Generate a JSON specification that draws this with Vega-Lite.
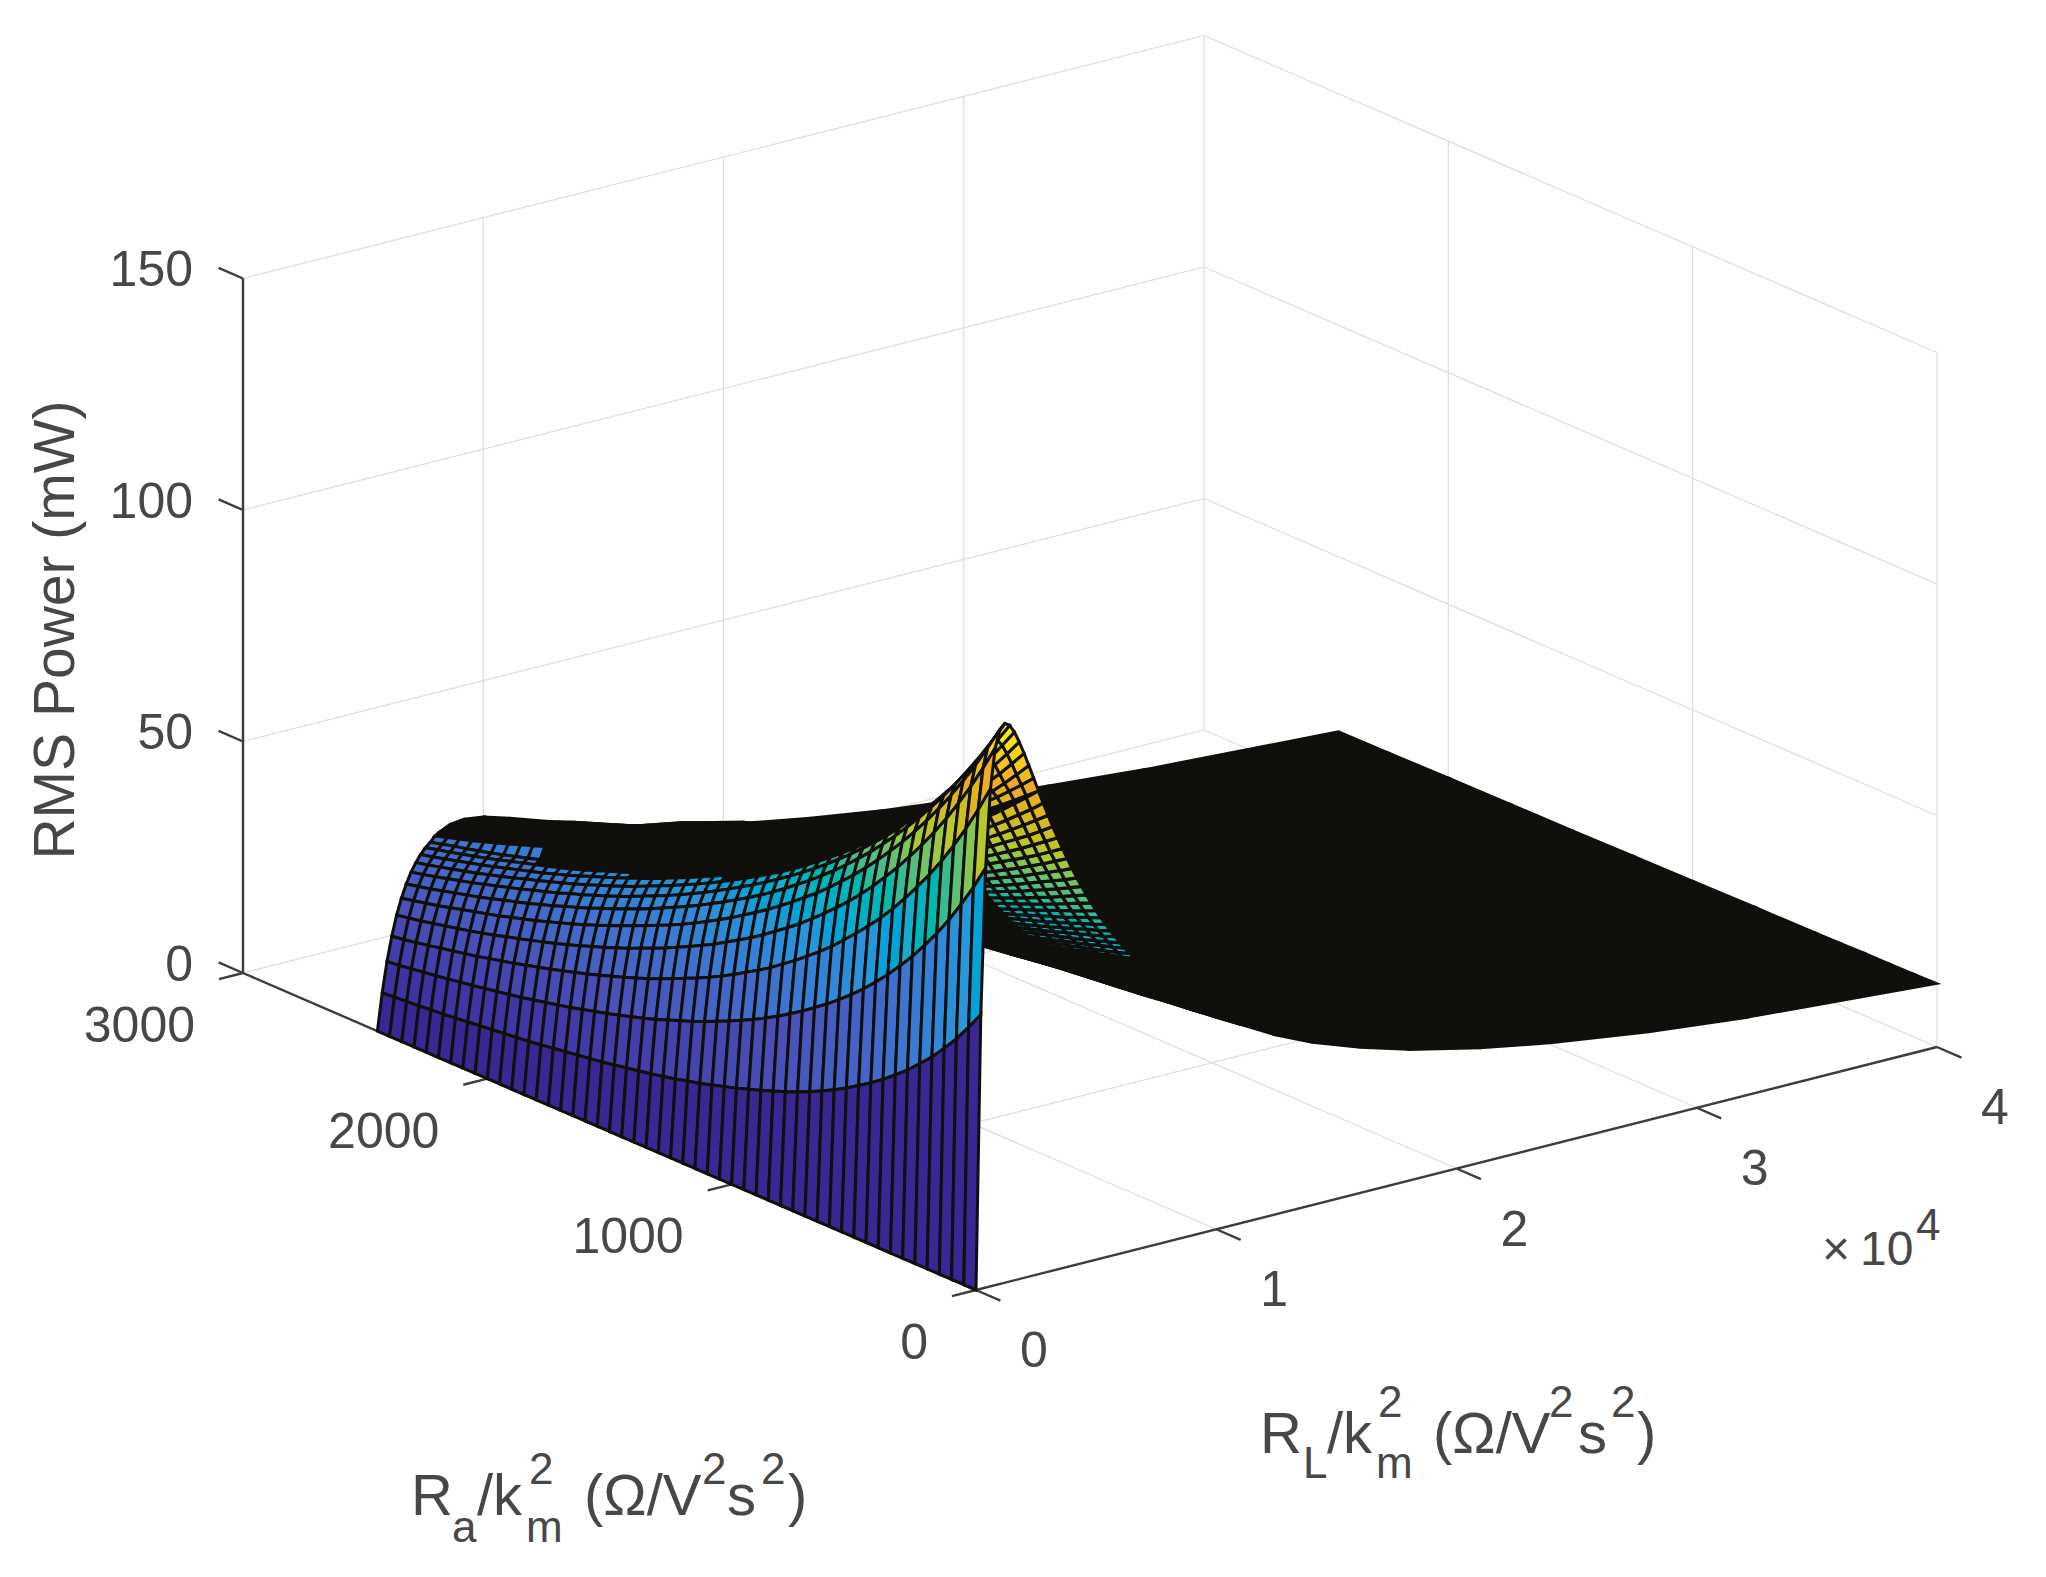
{"$schema":"https://vega.github.io/schema/vega-lite/v6.json","width":2046,"height":1577,"autosize":{"type":"fit","contains":"padding"},"padding":0,"background":"white","view":{"stroke":null},
"datasets":{
"lines":[
{"id":"f1","kind":"grid","rl":10000,"ra":0,"p":0},{"id":"f1","kind":"grid","rl":10000,"ra":3000,"p":0},
{"id":"f2","kind":"grid","rl":20000,"ra":0,"p":0},{"id":"f2","kind":"grid","rl":20000,"ra":3000,"p":0},
{"id":"f3","kind":"grid","rl":30000,"ra":0,"p":0},{"id":"f3","kind":"grid","rl":30000,"ra":3000,"p":0},
{"id":"f4","kind":"grid","rl":40000,"ra":0,"p":0},{"id":"f4","kind":"grid","rl":40000,"ra":3000,"p":0},
{"id":"f5","kind":"grid","rl":0,"ra":1000,"p":0},{"id":"f5","kind":"grid","rl":40000,"ra":1000,"p":0},
{"id":"f6","kind":"grid","rl":0,"ra":2000,"p":0},{"id":"f6","kind":"grid","rl":40000,"ra":2000,"p":0},
{"id":"f7","kind":"grid","rl":0,"ra":3000,"p":0},{"id":"f7","kind":"grid","rl":40000,"ra":3000,"p":0},
{"id":"l1","kind":"grid","rl":10000,"ra":3000,"p":0},{"id":"l1","kind":"grid","rl":10000,"ra":3000,"p":150},
{"id":"l2","kind":"grid","rl":20000,"ra":3000,"p":0},{"id":"l2","kind":"grid","rl":20000,"ra":3000,"p":150},
{"id":"l3","kind":"grid","rl":30000,"ra":3000,"p":0},{"id":"l3","kind":"grid","rl":30000,"ra":3000,"p":150},
{"id":"l4","kind":"grid","rl":40000,"ra":3000,"p":0},{"id":"l4","kind":"grid","rl":40000,"ra":3000,"p":150},
{"id":"l5","kind":"grid","rl":0,"ra":3000,"p":50},{"id":"l5","kind":"grid","rl":40000,"ra":3000,"p":50},
{"id":"l6","kind":"grid","rl":0,"ra":3000,"p":100},{"id":"l6","kind":"grid","rl":40000,"ra":3000,"p":100},
{"id":"l7","kind":"grid","rl":0,"ra":3000,"p":150},{"id":"l7","kind":"grid","rl":40000,"ra":3000,"p":150},
{"id":"r1","kind":"grid","rl":40000,"ra":0,"p":0},{"id":"r1","kind":"grid","rl":40000,"ra":0,"p":150},
{"id":"r2","kind":"grid","rl":40000,"ra":1000,"p":0},{"id":"r2","kind":"grid","rl":40000,"ra":1000,"p":150},
{"id":"r3","kind":"grid","rl":40000,"ra":2000,"p":0},{"id":"r3","kind":"grid","rl":40000,"ra":2000,"p":150},
{"id":"r4","kind":"grid","rl":40000,"ra":0,"p":50},{"id":"r4","kind":"grid","rl":40000,"ra":3000,"p":50},
{"id":"r5","kind":"grid","rl":40000,"ra":0,"p":100},{"id":"r5","kind":"grid","rl":40000,"ra":3000,"p":100},
{"id":"r6","kind":"grid","rl":40000,"ra":0,"p":150},{"id":"r6","kind":"grid","rl":40000,"ra":3000,"p":150},
{"id":"a1","kind":"axis","rl":0,"ra":3000,"p":0},{"id":"a1","kind":"axis","rl":0,"ra":3000,"p":150},
{"id":"a2","kind":"axis","rl":0,"ra":0,"p":0},{"id":"a2","kind":"axis","rl":0,"ra":3000,"p":0},
{"id":"a3","kind":"axis","rl":0,"ra":0,"p":0},{"id":"a3","kind":"axis","rl":40000,"ra":0,"p":0},
{"id":"t1","kind":"axis","rl":0,"ra":3000,"p":0},{"id":"t1","kind":"axis","rl":0,"ra":3100,"p":0},
{"id":"t2","kind":"axis","rl":0,"ra":3000,"p":50},{"id":"t2","kind":"axis","rl":0,"ra":3100,"p":50},
{"id":"t3","kind":"axis","rl":0,"ra":3000,"p":100},{"id":"t3","kind":"axis","rl":0,"ra":3100,"p":100},
{"id":"t4","kind":"axis","rl":0,"ra":3000,"p":150},{"id":"t4","kind":"axis","rl":0,"ra":3100,"p":150},
{"id":"t5","kind":"axis","rl":0,"ra":0,"p":0},{"id":"t5","kind":"axis","rl":-1000,"ra":0,"p":0},
{"id":"t6","kind":"axis","rl":0,"ra":1000,"p":0},{"id":"t6","kind":"axis","rl":-1000,"ra":1000,"p":0},
{"id":"t7","kind":"axis","rl":0,"ra":2000,"p":0},{"id":"t7","kind":"axis","rl":-1000,"ra":2000,"p":0},
{"id":"t8","kind":"axis","rl":0,"ra":3000,"p":0},{"id":"t8","kind":"axis","rl":-1000,"ra":3000,"p":0},
{"id":"t9","kind":"axis","rl":0,"ra":0,"p":0},{"id":"t9","kind":"axis","rl":0,"ra":-100,"p":0},
{"id":"t10","kind":"axis","rl":10000,"ra":0,"p":0},{"id":"t10","kind":"axis","rl":10000,"ra":-100,"p":0},
{"id":"t11","kind":"axis","rl":20000,"ra":0,"p":0},{"id":"t11","kind":"axis","rl":20000,"ra":-100,"p":0},
{"id":"t12","kind":"axis","rl":30000,"ra":0,"p":0},{"id":"t12","kind":"axis","rl":30000,"ra":-100,"p":0},
{"id":"t13","kind":"axis","rl":40000,"ra":0,"p":0},{"id":"t13","kind":"axis","rl":40000,"ra":-100,"p":0}
],
"far":[
{"ra":2450,"rl":40000,"p":12.2},{"ra":2250,"rl":40000,"p":12.3},{"ra":2000,"rl":40000,"p":12.5},{"ra":1750,"rl":40000,"p":12.6},{"ra":1500,"rl":40000,"p":12.7},{"ra":1250,"rl":40000,"p":12.9},{"ra":1000,"rl":40000,"p":13.0},{"ra":750,"rl":40000,"p":13.2},{"ra":500,"rl":40000,"p":13.3},{"ra":400,"rl":40000,"p":13.4},{"ra":300,"rl":40000,"p":13.5},{"ra":200,"rl":40000,"p":13.5},{"ra":100,"rl":40000,"p":13.6},{"ra":0,"rl":40000,"p":13.7},
{"ra":2450,"rl":32000,"p":14.6},{"ra":2250,"rl":32000,"p":14.8},{"ra":2000,"rl":32000,"p":15.0},{"ra":1750,"rl":32000,"p":15.2},{"ra":1500,"rl":32000,"p":15.4},{"ra":1250,"rl":32000,"p":15.7},{"ra":1000,"rl":32000,"p":15.9},{"ra":750,"rl":32000,"p":16.1},{"ra":500,"rl":32000,"p":16.4},{"ra":400,"rl":32000,"p":16.4},{"ra":300,"rl":32000,"p":16.5},{"ra":200,"rl":32000,"p":16.6},{"ra":100,"rl":32000,"p":16.7},{"ra":0,"rl":32000,"p":16.8},
{"ra":2450,"rl":28000,"p":16.3},{"ra":2250,"rl":28000,"p":16.5},{"ra":2000,"rl":28000,"p":16.7},{"ra":1750,"rl":28000,"p":17.0},{"ra":1500,"rl":28000,"p":17.3},{"ra":1250,"rl":28000,"p":17.5},{"ra":1000,"rl":28000,"p":17.8},{"ra":750,"rl":28000,"p":18.1},{"ra":500,"rl":28000,"p":18.4},{"ra":400,"rl":28000,"p":18.5},{"ra":300,"rl":28000,"p":18.7},{"ra":200,"rl":28000,"p":18.8},{"ra":100,"rl":28000,"p":18.9},{"ra":0,"rl":28000,"p":19.0},
{"ra":2450,"rl":24000,"p":18.3},{"ra":2250,"rl":24000,"p":18.5},{"ra":2000,"rl":24000,"p":18.9},{"ra":1750,"rl":24000,"p":19.2},{"ra":1500,"rl":24000,"p":19.6},{"ra":1250,"rl":24000,"p":19.9},{"ra":1000,"rl":24000,"p":20.3},{"ra":750,"rl":24000,"p":20.7},{"ra":500,"rl":24000,"p":21.1},{"ra":400,"rl":24000,"p":21.3},{"ra":300,"rl":24000,"p":21.4},{"ra":200,"rl":24000,"p":21.6},{"ra":100,"rl":24000,"p":21.8},{"ra":0,"rl":24000,"p":21.9},
{"ra":2450,"rl":21000,"p":20.1},{"ra":2250,"rl":21000,"p":20.5},{"ra":2000,"rl":21000,"p":20.9},{"ra":1750,"rl":21000,"p":21.3},{"ra":1500,"rl":21000,"p":21.7},{"ra":1250,"rl":21000,"p":22.2},{"ra":1000,"rl":21000,"p":22.7},{"ra":750,"rl":21000,"p":23.2},{"ra":500,"rl":21000,"p":23.7},{"ra":400,"rl":21000,"p":23.9},{"ra":300,"rl":21000,"p":24.1},{"ra":200,"rl":21000,"p":24.3},{"ra":100,"rl":21000,"p":24.5},{"ra":0,"rl":21000,"p":24.7},
{"ra":2450,"rl":18000,"p":22.4},{"ra":2250,"rl":18000,"p":22.8},{"ra":2000,"rl":18000,"p":23.3},{"ra":1750,"rl":18000,"p":23.9},{"ra":1500,"rl":18000,"p":24.4},{"ra":1250,"rl":18000,"p":25.0},{"ra":1000,"rl":18000,"p":25.6},{"ra":750,"rl":18000,"p":26.3},{"ra":500,"rl":18000,"p":26.9},{"ra":400,"rl":18000,"p":27.2},{"ra":300,"rl":18000,"p":27.5},{"ra":200,"rl":18000,"p":27.8},{"ra":100,"rl":18000,"p":28.0},{"ra":0,"rl":18000,"p":28.3},
{"ra":2450,"rl":16000,"p":24.2},{"ra":2250,"rl":16000,"p":24.6},{"ra":2000,"rl":16000,"p":25.3},{"ra":1750,"rl":16000,"p":25.9},{"ra":1500,"rl":16000,"p":26.6},{"ra":1250,"rl":16000,"p":27.3},{"ra":1000,"rl":16000,"p":28.1},{"ra":750,"rl":16000,"p":28.8},{"ra":500,"rl":16000,"p":29.7},{"ra":400,"rl":16000,"p":30.0},{"ra":300,"rl":16000,"p":30.3},{"ra":200,"rl":16000,"p":30.7},{"ra":100,"rl":16000,"p":31.0},{"ra":0,"rl":16000,"p":31.4},
{"ra":2450,"rl":14000,"p":26.2},{"ra":2250,"rl":14000,"p":26.8},{"ra":2000,"rl":14000,"p":27.6},{"ra":1750,"rl":14000,"p":28.4},{"ra":1500,"rl":14000,"p":29.2},{"ra":1250,"rl":14000,"p":30.1},{"ra":1000,"rl":14000,"p":31.0},{"ra":750,"rl":14000,"p":32.0},{"ra":500,"rl":14000,"p":33.0},{"ra":400,"rl":14000,"p":33.4},{"ra":300,"rl":14000,"p":33.8},{"ra":200,"rl":14000,"p":34.3},{"ra":100,"rl":14000,"p":34.7},{"ra":0,"rl":14000,"p":35.1},
{"ra":2450,"rl":12500,"p":28.0},{"ra":2250,"rl":12500,"p":28.7},{"ra":2000,"rl":12500,"p":29.6},{"ra":1750,"rl":12500,"p":30.5},{"ra":1500,"rl":12500,"p":31.5},{"ra":1250,"rl":12500,"p":32.5},{"ra":1000,"rl":12500,"p":33.6},{"ra":750,"rl":12500,"p":34.8},{"ra":500,"rl":12500,"p":36.0},{"ra":400,"rl":12500,"p":36.5},{"ra":300,"rl":12500,"p":37.0},{"ra":200,"rl":12500,"p":37.5},{"ra":100,"rl":12500,"p":38.1},{"ra":0,"rl":12500,"p":38.6},
{"ra":2450,"rl":11000,"p":29.9},{"ra":2250,"rl":11000,"p":30.7},{"ra":2000,"rl":11000,"p":31.8},{"ra":1750,"rl":11000,"p":32.9},{"ra":1500,"rl":11000,"p":34.1},{"ra":1250,"rl":11000,"p":35.4},{"ra":1000,"rl":11000,"p":36.7},{"ra":750,"rl":11000,"p":38.1},{"ra":500,"rl":11000,"p":39.6},{"ra":400,"rl":11000,"p":40.2},{"ra":300,"rl":11000,"p":40.9},{"ra":200,"rl":11000,"p":41.5},{"ra":100,"rl":11000,"p":42.2},{"ra":0,"rl":11000,"p":42.9},
{"ra":2450,"rl":9000,"p":32.9},{"ra":2250,"rl":9000,"p":33.9},{"ra":2000,"rl":9000,"p":35.3},{"ra":1750,"rl":9000,"p":36.8},{"ra":1500,"rl":9000,"p":38.3},{"ra":1250,"rl":9000,"p":40.0},{"ra":1000,"rl":9000,"p":41.8},{"ra":750,"rl":9000,"p":43.7},{"ra":500,"rl":9000,"p":45.7},{"ra":400,"rl":9000,"p":46.5},{"ra":300,"rl":9000,"p":47.4},{"ra":200,"rl":9000,"p":48.3},{"ra":100,"rl":9000,"p":49.2},{"ra":0,"rl":9000,"p":50.2},
{"ra":2450,"rl":7000,"p":36.2},{"ra":2250,"rl":7000,"p":37.8},{"ra":2000,"rl":7000,"p":39.9},{"ra":1750,"rl":7000,"p":42.1},{"ra":1500,"rl":7000,"p":44.4},{"ra":1250,"rl":7000,"p":46.8},{"ra":1000,"rl":7000,"p":49.1},{"ra":750,"rl":7000,"p":51.6},{"ra":500,"rl":7000,"p":54.3},{"ra":400,"rl":7000,"p":55.4},{"ra":300,"rl":7000,"p":56.6},{"ra":200,"rl":7000,"p":57.8},{"ra":100,"rl":7000,"p":59.0},{"ra":0,"rl":7000,"p":60.4},
{"ra":2450,"rl":5500,"p":38.8},{"ra":2250,"rl":5500,"p":41.2},{"ra":2000,"rl":5500,"p":44.4},{"ra":1750,"rl":5500,"p":47.3},{"ra":1500,"rl":5500,"p":50.9},{"ra":1250,"rl":5500,"p":54.0},{"ra":1000,"rl":5500,"p":56.8},{"ra":750,"rl":5500,"p":59.8},{"ra":500,"rl":5500,"p":63.2},{"ra":400,"rl":5500,"p":64.7},{"ra":300,"rl":5500,"p":66.2},{"ra":200,"rl":5500,"p":67.8},{"ra":100,"rl":5500,"p":69.3},{"ra":0,"rl":5500,"p":71.1},
{"ra":2450,"rl":4400,"p":40.5},{"ra":2250,"rl":4400,"p":43.7},{"ra":2000,"rl":4400,"p":48.1},{"ra":1750,"rl":4400,"p":52.0},{"ra":1500,"rl":4400,"p":56.8},{"ra":1250,"rl":4400,"p":60.9},{"ra":1000,"rl":4400,"p":64.1},{"ra":750,"rl":4400,"p":67.7},{"ra":500,"rl":4400,"p":71.8},{"ra":400,"rl":4400,"p":73.6},{"ra":300,"rl":4400,"p":75.4},{"ra":200,"rl":4400,"p":77.4},{"ra":100,"rl":4400,"p":79.2},{"ra":0,"rl":4400,"p":81.4},
{"ra":2450,"rl":3600,"p":41.1},{"ra":2250,"rl":3600,"p":45.1},{"ra":2000,"rl":3600,"p":50.7},{"ra":1750,"rl":3600,"p":55.6},{"ra":1500,"rl":3600,"p":61.6},{"ra":1250,"rl":3600,"p":66.7},{"ra":1000,"rl":3600,"p":70.3},{"ra":750,"rl":3600,"p":74.5},{"ra":500,"rl":3600,"p":79.2},{"ra":400,"rl":3600,"p":81.3},{"ra":300,"rl":3600,"p":83.4},{"ra":200,"rl":3600,"p":85.8},{"ra":100,"rl":3600,"p":88.1},{"ra":0,"rl":3600,"p":90.6},
{"ra":2450,"rl":3000,"p":40.7},{"ra":2250,"rl":3000,"p":44.9},{"ra":2000,"rl":3000,"p":50.9},{"ra":1750,"rl":3000,"p":56.2},{"ra":1500,"rl":3000,"p":62.8},{"ra":1250,"rl":3000,"p":68.6},{"ra":1000,"rl":3000,"p":73.0},{"ra":750,"rl":3000,"p":78.1},{"ra":500,"rl":3000,"p":84.0},{"ra":400,"rl":3000,"p":86.6},{"ra":300,"rl":3000,"p":89.3},{"ra":200,"rl":3000,"p":92.3},{"ra":100,"rl":3000,"p":95.3},{"ra":0,"rl":3000,"p":98.6},
{"ra":2450,"rl":2600,"p":39.7},{"ra":2250,"rl":2600,"p":43.6},{"ra":2000,"rl":2600,"p":48.9},{"ra":1750,"rl":2600,"p":54.1},{"ra":1500,"rl":2600,"p":60.4},{"ra":1250,"rl":2600,"p":66.4},{"ra":1000,"rl":2600,"p":71.8},{"ra":750,"rl":2600,"p":78.1},{"ra":500,"rl":2600,"p":85.6},{"ra":400,"rl":2600,"p":88.8},{"ra":300,"rl":2600,"p":92.3},{"ra":200,"rl":2600,"p":96.0},{"ra":100,"rl":2600,"p":100.1},{"ra":0,"rl":2600,"p":104.4}
],
"tri":[
{"ra":400,"rl":6600,"p":57.0},{"ra":350,"rl":6600,"p":57.7},{"ra":300,"rl":6600,"p":58.4},{"ra":250,"rl":6600,"p":59.1},{"ra":200,"rl":6600,"p":59.9},{"ra":150,"rl":6600,"p":60.6},{"ra":100,"rl":6600,"p":61.4},{"ra":50,"rl":6600,"p":62.1},{"ra":0,"rl":6600,"p":62.9},
{"ra":400,"rl":6400,"p":58.1},{"ra":350,"rl":6400,"p":58.8},{"ra":300,"rl":6400,"p":59.6},{"ra":250,"rl":6400,"p":60.3},{"ra":200,"rl":6400,"p":61.1},{"ra":150,"rl":6400,"p":61.8},{"ra":100,"rl":6400,"p":62.6},{"ra":50,"rl":6400,"p":63.4},{"ra":0,"rl":6400,"p":64.3},
{"ra":400,"rl":6200,"p":59.2},{"ra":350,"rl":6200,"p":59.9},{"ra":300,"rl":6200,"p":60.7},{"ra":250,"rl":6200,"p":61.5},{"ra":200,"rl":6200,"p":62.3},{"ra":150,"rl":6200,"p":63.1},{"ra":100,"rl":6200,"p":64.0},{"ra":50,"rl":6200,"p":64.8},{"ra":0,"rl":6200,"p":65.7},
{"ra":400,"rl":6000,"p":60.4},{"ra":350,"rl":6000,"p":61.2},{"ra":300,"rl":6000,"p":62.0},{"ra":250,"rl":6000,"p":62.8},{"ra":200,"rl":6000,"p":63.6},{"ra":150,"rl":6000,"p":64.4},{"ra":100,"rl":6000,"p":65.3},{"ra":50,"rl":6000,"p":66.2},{"ra":0,"rl":6000,"p":67.1},
{"ra":400,"rl":5800,"p":61.6},{"ra":350,"rl":5800,"p":62.4},{"ra":300,"rl":5800,"p":63.2},{"ra":250,"rl":5800,"p":64.1},{"ra":200,"rl":5800,"p":65.0},{"ra":150,"rl":5800,"p":65.9},{"ra":100,"rl":5800,"p":66.8},{"ra":50,"rl":5800,"p":67.7},{"ra":0,"rl":5800,"p":68.7},
{"ra":400,"rl":5600,"p":62.8},{"ra":350,"rl":5600,"p":63.6},{"ra":300,"rl":5600,"p":64.5},{"ra":250,"rl":5600,"p":65.4},{"ra":200,"rl":5600,"p":66.4},{"ra":150,"rl":5600,"p":67.3},{"ra":100,"rl":5600,"p":68.3},{"ra":50,"rl":5600,"p":69.2},{"ra":0,"rl":5600,"p":70.2},
{"ra":400,"rl":5400,"p":64.1},{"ra":350,"rl":5400,"p":65.0},{"ra":300,"rl":5400,"p":65.9},{"ra":250,"rl":5400,"p":66.8},{"ra":200,"rl":5400,"p":67.8},{"ra":150,"rl":5400,"p":68.8},{"ra":100,"rl":5400,"p":69.8},{"ra":50,"rl":5400,"p":70.8},{"ra":0,"rl":5400,"p":71.9},
{"ra":400,"rl":5200,"p":65.4},{"ra":350,"rl":5200,"p":66.3},{"ra":300,"rl":5200,"p":67.3},{"ra":250,"rl":5200,"p":68.3},{"ra":200,"rl":5200,"p":69.3},{"ra":150,"rl":5200,"p":70.3},{"ra":100,"rl":5200,"p":71.4},{"ra":50,"rl":5200,"p":72.5},{"ra":0,"rl":5200,"p":73.6},
{"ra":400,"rl":5000,"p":66.7},{"ra":350,"rl":5000,"p":67.7},{"ra":300,"rl":5000,"p":68.8},{"ra":250,"rl":5000,"p":69.8},{"ra":200,"rl":5000,"p":70.9},{"ra":150,"rl":5000,"p":72.0},{"ra":100,"rl":5000,"p":73.1},{"ra":50,"rl":5000,"p":74.2},{"ra":0,"rl":5000,"p":75.4},
{"ra":400,"rl":4800,"p":68.1},{"ra":350,"rl":4800,"p":69.2},{"ra":300,"rl":4800,"p":70.3},{"ra":250,"rl":4800,"p":71.4},{"ra":200,"rl":4800,"p":72.5},{"ra":150,"rl":4800,"p":73.7},{"ra":100,"rl":4800,"p":74.9},{"ra":50,"rl":4800,"p":76.1},{"ra":0,"rl":4800,"p":77.3},
{"ra":400,"rl":4600,"p":69.6},{"ra":350,"rl":4600,"p":70.7},{"ra":300,"rl":4600,"p":71.8},{"ra":250,"rl":4600,"p":73.0},{"ra":200,"rl":4600,"p":74.2},{"ra":150,"rl":4600,"p":75.4},{"ra":100,"rl":4600,"p":76.7},{"ra":50,"rl":4600,"p":78.0},{"ra":0,"rl":4600,"p":79.3},
{"ra":400,"rl":4400,"p":71.1},{"ra":350,"rl":4400,"p":72.3},{"ra":300,"rl":4400,"p":73.5},{"ra":250,"rl":4400,"p":74.7},{"ra":200,"rl":4400,"p":76.0},{"ra":150,"rl":4400,"p":77.3},{"ra":100,"rl":4400,"p":78.6},{"ra":50,"rl":4400,"p":80.0},{"ra":0,"rl":4400,"p":81.4},
{"ra":400,"rl":4200,"p":72.6},{"ra":350,"rl":4200,"p":73.8},{"ra":300,"rl":4200,"p":75.1},{"ra":250,"rl":4200,"p":76.4},{"ra":200,"rl":4200,"p":77.8},{"ra":150,"rl":4200,"p":79.2},{"ra":100,"rl":4200,"p":80.6},{"ra":50,"rl":4200,"p":82.0},{"ra":0,"rl":4200,"p":83.5},
{"ra":400,"rl":4000,"p":74.2},{"ra":350,"rl":4000,"p":75.5},{"ra":300,"rl":4000,"p":76.9},{"ra":250,"rl":4000,"p":78.3},{"ra":200,"rl":4000,"p":79.7},{"ra":150,"rl":4000,"p":81.2},{"ra":100,"rl":4000,"p":82.7},{"ra":50,"rl":4000,"p":84.2},{"ra":0,"rl":4000,"p":85.8},
{"ra":400,"rl":3800,"p":75.8},{"ra":350,"rl":3800,"p":77.2},{"ra":300,"rl":3800,"p":78.6},{"ra":250,"rl":3800,"p":80.1},{"ra":200,"rl":3800,"p":81.6},{"ra":150,"rl":3800,"p":83.2},{"ra":100,"rl":3800,"p":84.8},{"ra":50,"rl":3800,"p":86.5},{"ra":0,"rl":3800,"p":88.2},
{"ra":400,"rl":3600,"p":77.5},{"ra":350,"rl":3600,"p":79.0},{"ra":300,"rl":3600,"p":80.5},{"ra":250,"rl":3600,"p":82.1},{"ra":200,"rl":3600,"p":83.7},{"ra":150,"rl":3600,"p":85.3},{"ra":100,"rl":3600,"p":87.0},{"ra":50,"rl":3600,"p":88.8},{"ra":0,"rl":3600,"p":90.6},
{"ra":400,"rl":3400,"p":79.1},{"ra":350,"rl":3400,"p":80.7},{"ra":300,"rl":3400,"p":82.3},{"ra":250,"rl":3400,"p":84.0},{"ra":200,"rl":3400,"p":85.7},{"ra":150,"rl":3400,"p":87.5},{"ra":100,"rl":3400,"p":89.4},{"ra":50,"rl":3400,"p":91.3},{"ra":0,"rl":3400,"p":93.2},
{"ra":400,"rl":3200,"p":80.8},{"ra":350,"rl":3200,"p":82.5},{"ra":300,"rl":3200,"p":84.2},{"ra":250,"rl":3200,"p":86.0},{"ra":200,"rl":3200,"p":87.9},{"ra":150,"rl":3200,"p":89.8},{"ra":100,"rl":3200,"p":91.7},{"ra":50,"rl":3200,"p":93.8},{"ra":0,"rl":3200,"p":95.9},
{"ra":400,"rl":3000,"p":82.5},{"ra":350,"rl":3000,"p":84.3},{"ra":300,"rl":3000,"p":86.1},{"ra":250,"rl":3000,"p":88.0},{"ra":200,"rl":3000,"p":90.0},{"ra":150,"rl":3000,"p":92.1},{"ra":100,"rl":3000,"p":94.2},{"ra":50,"rl":3000,"p":96.4},{"ra":0,"rl":3000,"p":98.6},
{"ra":400,"rl":2800,"p":84.2},{"ra":350,"rl":2800,"p":86.1},{"ra":300,"rl":2800,"p":88.1},{"ra":250,"rl":2800,"p":90.1},{"ra":200,"rl":2800,"p":92.2},{"ra":150,"rl":2800,"p":94.4},{"ra":100,"rl":2800,"p":96.7},{"ra":50,"rl":2800,"p":99.0},{"ra":0,"rl":2800,"p":101.5},
{"ra":400,"rl":2600,"p":85.8},{"ra":350,"rl":2600,"p":87.9},{"ra":300,"rl":2600,"p":90.0},{"ra":250,"rl":2600,"p":92.2},{"ra":200,"rl":2600,"p":94.4},{"ra":150,"rl":2600,"p":96.8},{"ra":100,"rl":2600,"p":99.3},{"ra":50,"rl":2600,"p":101.8},{"ra":0,"rl":2600,"p":104.4}
],
"main":[
{"ra":2450,"rl":2600,"p":39.7},{"ra":2400,"rl":2600,"p":40.7},{"ra":2350,"rl":2600,"p":41.6},{"ra":2300,"rl":2600,"p":42.6},{"ra":2250,"rl":2600,"p":43.6},{"ra":2200,"rl":2600,"p":44.6},{"ra":2150,"rl":2600,"p":45.7},{"ra":2100,"rl":2600,"p":46.8},{"ra":2050,"rl":2600,"p":47.8},{"ra":2000,"rl":2600,"p":48.9},{"ra":1950,"rl":2600,"p":49.9},{"ra":1900,"rl":2600,"p":51.0},{"ra":1850,"rl":2600,"p":52.0},{"ra":1800,"rl":2600,"p":53.1},{"ra":1750,"rl":2600,"p":54.1},{"ra":1700,"rl":2600,"p":55.4},{"ra":1650,"rl":2600,"p":56.6},{"ra":1600,"rl":2600,"p":57.9},{"ra":1550,"rl":2600,"p":59.1},{"ra":1500,"rl":2600,"p":60.4},{"ra":1450,"rl":2600,"p":61.6},{"ra":1400,"rl":2600,"p":62.8},{"ra":1350,"rl":2600,"p":64.0},{"ra":1300,"rl":2600,"p":65.2},{"ra":1250,"rl":2600,"p":66.4},{"ra":1200,"rl":2600,"p":67.5},{"ra":1150,"rl":2600,"p":68.6},{"ra":1100,"rl":2600,"p":69.7},{"ra":1050,"rl":2600,"p":70.7},{"ra":1000,"rl":2600,"p":71.8},{"ra":950,"rl":2600,"p":73.0},{"ra":900,"rl":2600,"p":74.3},{"ra":850,"rl":2600,"p":75.5},{"ra":800,"rl":2600,"p":76.8},{"ra":750,"rl":2600,"p":78.1},{"ra":700,"rl":2600,"p":79.5},{"ra":650,"rl":2600,"p":81.0},{"ra":600,"rl":2600,"p":82.5},{"ra":550,"rl":2600,"p":84.0},{"ra":500,"rl":2600,"p":85.6},{"ra":450,"rl":2600,"p":87.2},{"ra":400,"rl":2600,"p":88.8},{"ra":350,"rl":2600,"p":90.5},{"ra":300,"rl":2600,"p":92.3},{"ra":250,"rl":2600,"p":94.1},{"ra":200,"rl":2600,"p":96.0},{"ra":150,"rl":2600,"p":98.0},{"ra":100,"rl":2600,"p":100.1},{"ra":50,"rl":2600,"p":102.2},{"ra":0,"rl":2600,"p":104.4},
{"ra":2450,"rl":2400,"p":39.0},{"ra":2400,"rl":2400,"p":39.8},{"ra":2350,"rl":2400,"p":40.6},{"ra":2300,"rl":2400,"p":41.4},{"ra":2250,"rl":2400,"p":42.3},{"ra":2200,"rl":2400,"p":43.2},{"ra":2150,"rl":2400,"p":44.1},{"ra":2100,"rl":2400,"p":45.1},{"ra":2050,"rl":2400,"p":46.0},{"ra":2000,"rl":2400,"p":47.0},{"ra":1950,"rl":2400,"p":48.0},{"ra":1900,"rl":2400,"p":49.0},{"ra":1850,"rl":2400,"p":49.9},{"ra":1800,"rl":2400,"p":50.9},{"ra":1750,"rl":2400,"p":51.9},{"ra":1700,"rl":2400,"p":53.0},{"ra":1650,"rl":2400,"p":54.1},{"ra":1600,"rl":2400,"p":55.3},{"ra":1550,"rl":2400,"p":56.5},{"ra":1500,"rl":2400,"p":57.7},{"ra":1450,"rl":2400,"p":58.8},{"ra":1400,"rl":2400,"p":60.0},{"ra":1350,"rl":2400,"p":61.2},{"ra":1300,"rl":2400,"p":62.4},{"ra":1250,"rl":2400,"p":63.6},{"ra":1200,"rl":2400,"p":64.8},{"ra":1150,"rl":2400,"p":66.0},{"ra":1100,"rl":2400,"p":67.2},{"ra":1050,"rl":2400,"p":68.4},{"ra":1000,"rl":2400,"p":69.7},{"ra":950,"rl":2400,"p":71.0},{"ra":900,"rl":2400,"p":72.4},{"ra":850,"rl":2400,"p":73.8},{"ra":800,"rl":2400,"p":75.3},{"ra":750,"rl":2400,"p":76.9},{"ra":700,"rl":2400,"p":78.4},{"ra":650,"rl":2400,"p":79.9},{"ra":600,"rl":2400,"p":81.6},{"ra":550,"rl":2400,"p":83.4},{"ra":500,"rl":2400,"p":85.3},{"ra":450,"rl":2400,"p":87.1},{"ra":400,"rl":2400,"p":89.0},{"ra":350,"rl":2400,"p":91.1},{"ra":300,"rl":2400,"p":93.2},{"ra":250,"rl":2400,"p":95.4},{"ra":200,"rl":2400,"p":97.6},{"ra":150,"rl":2400,"p":99.9},{"ra":100,"rl":2400,"p":102.3},{"ra":50,"rl":2400,"p":104.8},{"ra":0,"rl":2400,"p":107.4},
{"ra":2450,"rl":2200,"p":37.9},{"ra":2400,"rl":2200,"p":38.6},{"ra":2350,"rl":2200,"p":39.3},{"ra":2300,"rl":2200,"p":39.9},{"ra":2250,"rl":2200,"p":40.6},{"ra":2200,"rl":2200,"p":41.3},{"ra":2150,"rl":2200,"p":42.0},{"ra":2100,"rl":2200,"p":42.8},{"ra":2050,"rl":2200,"p":43.6},{"ra":2000,"rl":2200,"p":44.4},{"ra":1950,"rl":2200,"p":45.2},{"ra":1900,"rl":2200,"p":46.0},{"ra":1850,"rl":2200,"p":46.9},{"ra":1800,"rl":2200,"p":47.9},{"ra":1750,"rl":2200,"p":48.8},{"ra":1700,"rl":2200,"p":49.7},{"ra":1650,"rl":2200,"p":50.7},{"ra":1600,"rl":2200,"p":51.7},{"ra":1550,"rl":2200,"p":52.7},{"ra":1500,"rl":2200,"p":53.8},{"ra":1450,"rl":2200,"p":54.9},{"ra":1400,"rl":2200,"p":56.0},{"ra":1350,"rl":2200,"p":57.2},{"ra":1300,"rl":2200,"p":58.4},{"ra":1250,"rl":2200,"p":59.7},{"ra":1200,"rl":2200,"p":61.0},{"ra":1150,"rl":2200,"p":62.3},{"ra":1100,"rl":2200,"p":63.6},{"ra":1050,"rl":2200,"p":65.0},{"ra":1000,"rl":2200,"p":66.5},{"ra":950,"rl":2200,"p":68.0},{"ra":900,"rl":2200,"p":69.6},{"ra":850,"rl":2200,"p":71.2},{"ra":800,"rl":2200,"p":72.9},{"ra":750,"rl":2200,"p":74.6},{"ra":700,"rl":2200,"p":76.4},{"ra":650,"rl":2200,"p":78.2},{"ra":600,"rl":2200,"p":80.2},{"ra":550,"rl":2200,"p":82.2},{"ra":500,"rl":2200,"p":84.3},{"ra":450,"rl":2200,"p":86.5},{"ra":400,"rl":2200,"p":88.7},{"ra":350,"rl":2200,"p":91.0},{"ra":300,"rl":2200,"p":93.5},{"ra":250,"rl":2200,"p":96.0},{"ra":200,"rl":2200,"p":98.7},{"ra":150,"rl":2200,"p":101.4},{"ra":100,"rl":2200,"p":104.3},{"ra":50,"rl":2200,"p":107.3},{"ra":0,"rl":2200,"p":110.4},
{"ra":2450,"rl":2000,"p":37.0},{"ra":2400,"rl":2000,"p":37.7},{"ra":2350,"rl":2000,"p":38.3},{"ra":2300,"rl":2000,"p":39.0},{"ra":2250,"rl":2000,"p":39.7},{"ra":2200,"rl":2000,"p":40.4},{"ra":2150,"rl":2000,"p":41.2},{"ra":2100,"rl":2000,"p":42.0},{"ra":2050,"rl":2000,"p":42.8},{"ra":2000,"rl":2000,"p":43.6},{"ra":1950,"rl":2000,"p":44.4},{"ra":1900,"rl":2000,"p":45.2},{"ra":1850,"rl":2000,"p":46.1},{"ra":1800,"rl":2000,"p":47.0},{"ra":1750,"rl":2000,"p":48.0},{"ra":1700,"rl":2000,"p":49.0},{"ra":1650,"rl":2000,"p":50.0},{"ra":1600,"rl":2000,"p":51.0},{"ra":1550,"rl":2000,"p":52.1},{"ra":1500,"rl":2000,"p":53.2},{"ra":1450,"rl":2000,"p":54.3},{"ra":1400,"rl":2000,"p":55.5},{"ra":1350,"rl":2000,"p":56.7},{"ra":1300,"rl":2000,"p":57.9},{"ra":1250,"rl":2000,"p":59.2},{"ra":1200,"rl":2000,"p":60.5},{"ra":1150,"rl":2000,"p":61.9},{"ra":1100,"rl":2000,"p":63.3},{"ra":1050,"rl":2000,"p":64.8},{"ra":1000,"rl":2000,"p":66.4},{"ra":950,"rl":2000,"p":68.0},{"ra":900,"rl":2000,"p":69.6},{"ra":850,"rl":2000,"p":71.3},{"ra":800,"rl":2000,"p":73.1},{"ra":750,"rl":2000,"p":74.9},{"ra":700,"rl":2000,"p":76.8},{"ra":650,"rl":2000,"p":78.7},{"ra":600,"rl":2000,"p":80.8},{"ra":550,"rl":2000,"p":82.9},{"ra":500,"rl":2000,"p":85.2},{"ra":450,"rl":2000,"p":87.5},{"ra":400,"rl":2000,"p":89.9},{"ra":350,"rl":2000,"p":92.4},{"ra":300,"rl":2000,"p":95.0},{"ra":250,"rl":2000,"p":97.7},{"ra":200,"rl":2000,"p":100.6},{"ra":150,"rl":2000,"p":103.5},{"ra":100,"rl":2000,"p":106.6},{"ra":50,"rl":2000,"p":109.9},{"ra":0,"rl":2000,"p":113.3},
{"ra":2450,"rl":1800,"p":35.8},{"ra":2400,"rl":1800,"p":36.4},{"ra":2350,"rl":1800,"p":37.1},{"ra":2300,"rl":1800,"p":37.8},{"ra":2250,"rl":1800,"p":38.5},{"ra":2200,"rl":1800,"p":39.2},{"ra":2150,"rl":1800,"p":40.0},{"ra":2100,"rl":1800,"p":40.8},{"ra":2050,"rl":1800,"p":41.6},{"ra":2000,"rl":1800,"p":42.4},{"ra":1950,"rl":1800,"p":43.2},{"ra":1900,"rl":1800,"p":44.1},{"ra":1850,"rl":1800,"p":45.0},{"ra":1800,"rl":1800,"p":46.0},{"ra":1750,"rl":1800,"p":47.0},{"ra":1700,"rl":1800,"p":48.0},{"ra":1650,"rl":1800,"p":49.0},{"ra":1600,"rl":1800,"p":50.1},{"ra":1550,"rl":1800,"p":51.2},{"ra":1500,"rl":1800,"p":52.3},{"ra":1450,"rl":1800,"p":53.5},{"ra":1400,"rl":1800,"p":54.7},{"ra":1350,"rl":1800,"p":55.9},{"ra":1300,"rl":1800,"p":57.2},{"ra":1250,"rl":1800,"p":58.5},{"ra":1200,"rl":1800,"p":59.9},{"ra":1150,"rl":1800,"p":61.3},{"ra":1100,"rl":1800,"p":62.8},{"ra":1050,"rl":1800,"p":64.3},{"ra":1000,"rl":1800,"p":65.9},{"ra":950,"rl":1800,"p":67.5},{"ra":900,"rl":1800,"p":69.2},{"ra":850,"rl":1800,"p":71.0},{"ra":800,"rl":1800,"p":72.9},{"ra":750,"rl":1800,"p":74.8},{"ra":700,"rl":1800,"p":76.8},{"ra":650,"rl":1800,"p":78.9},{"ra":600,"rl":1800,"p":81.0},{"ra":550,"rl":1800,"p":83.3},{"ra":500,"rl":1800,"p":85.7},{"ra":450,"rl":1800,"p":88.1},{"ra":400,"rl":1800,"p":90.7},{"ra":350,"rl":1800,"p":93.4},{"ra":300,"rl":1800,"p":96.2},{"ra":250,"rl":1800,"p":99.1},{"ra":200,"rl":1800,"p":102.2},{"ra":150,"rl":1800,"p":105.4},{"ra":100,"rl":1800,"p":108.8},{"ra":50,"rl":1800,"p":112.3},{"ra":0,"rl":1800,"p":116.0},
{"ra":2450,"rl":1600,"p":34.3},{"ra":2400,"rl":1600,"p":34.9},{"ra":2350,"rl":1600,"p":35.6},{"ra":2300,"rl":1600,"p":36.3},{"ra":2250,"rl":1600,"p":37.0},{"ra":2200,"rl":1600,"p":37.7},{"ra":2150,"rl":1600,"p":38.5},{"ra":2100,"rl":1600,"p":39.3},{"ra":2050,"rl":1600,"p":40.1},{"ra":2000,"rl":1600,"p":41.0},{"ra":1950,"rl":1600,"p":41.8},{"ra":1900,"rl":1600,"p":42.7},{"ra":1850,"rl":1600,"p":43.6},{"ra":1800,"rl":1600,"p":44.5},{"ra":1750,"rl":1600,"p":45.5},{"ra":1700,"rl":1600,"p":46.5},{"ra":1650,"rl":1600,"p":47.5},{"ra":1600,"rl":1600,"p":48.6},{"ra":1550,"rl":1600,"p":49.7},{"ra":1500,"rl":1600,"p":50.9},{"ra":1450,"rl":1600,"p":52.1},{"ra":1400,"rl":1600,"p":53.3},{"ra":1350,"rl":1600,"p":54.6},{"ra":1300,"rl":1600,"p":55.9},{"ra":1250,"rl":1600,"p":57.3},{"ra":1200,"rl":1600,"p":58.7},{"ra":1150,"rl":1600,"p":60.2},{"ra":1100,"rl":1600,"p":61.7},{"ra":1050,"rl":1600,"p":63.3},{"ra":1000,"rl":1600,"p":64.9},{"ra":950,"rl":1600,"p":66.6},{"ra":900,"rl":1600,"p":68.4},{"ra":850,"rl":1600,"p":70.3},{"ra":800,"rl":1600,"p":72.3},{"ra":750,"rl":1600,"p":74.3},{"ra":700,"rl":1600,"p":76.4},{"ra":650,"rl":1600,"p":78.6},{"ra":600,"rl":1600,"p":80.9},{"ra":550,"rl":1600,"p":83.3},{"ra":500,"rl":1600,"p":85.8},{"ra":450,"rl":1600,"p":88.4},{"ra":400,"rl":1600,"p":91.1},{"ra":350,"rl":1600,"p":93.9},{"ra":300,"rl":1600,"p":96.9},{"ra":250,"rl":1600,"p":100.1},{"ra":200,"rl":1600,"p":103.4},{"ra":150,"rl":1600,"p":106.9},{"ra":100,"rl":1600,"p":110.5},{"ra":50,"rl":1600,"p":114.4},{"ra":0,"rl":1600,"p":118.4},
{"ra":2450,"rl":1400,"p":32.5},{"ra":2400,"rl":1400,"p":33.1},{"ra":2350,"rl":1400,"p":33.8},{"ra":2300,"rl":1400,"p":34.5},{"ra":2250,"rl":1400,"p":35.2},{"ra":2200,"rl":1400,"p":35.9},{"ra":2150,"rl":1400,"p":36.7},{"ra":2100,"rl":1400,"p":37.5},{"ra":2050,"rl":1400,"p":38.3},{"ra":2000,"rl":1400,"p":39.1},{"ra":1950,"rl":1400,"p":40.0},{"ra":1900,"rl":1400,"p":40.8},{"ra":1850,"rl":1400,"p":41.7},{"ra":1800,"rl":1400,"p":42.7},{"ra":1750,"rl":1400,"p":43.6},{"ra":1700,"rl":1400,"p":44.6},{"ra":1650,"rl":1400,"p":45.6},{"ra":1600,"rl":1400,"p":46.7},{"ra":1550,"rl":1400,"p":47.8},{"ra":1500,"rl":1400,"p":49.0},{"ra":1450,"rl":1400,"p":50.2},{"ra":1400,"rl":1400,"p":51.4},{"ra":1350,"rl":1400,"p":52.7},{"ra":1300,"rl":1400,"p":54.1},{"ra":1250,"rl":1400,"p":55.5},{"ra":1200,"rl":1400,"p":57.0},{"ra":1150,"rl":1400,"p":58.5},{"ra":1100,"rl":1400,"p":60.1},{"ra":1050,"rl":1400,"p":61.7},{"ra":1000,"rl":1400,"p":63.4},{"ra":950,"rl":1400,"p":65.2},{"ra":900,"rl":1400,"p":67.0},{"ra":850,"rl":1400,"p":68.9},{"ra":800,"rl":1400,"p":70.9},{"ra":750,"rl":1400,"p":73.0},{"ra":700,"rl":1400,"p":75.2},{"ra":650,"rl":1400,"p":77.5},{"ra":600,"rl":1400,"p":79.9},{"ra":550,"rl":1400,"p":82.4},{"ra":500,"rl":1400,"p":85.0},{"ra":450,"rl":1400,"p":87.8},{"ra":400,"rl":1400,"p":90.7},{"ra":350,"rl":1400,"p":93.8},{"ra":300,"rl":1400,"p":97.0},{"ra":250,"rl":1400,"p":100.4},{"ra":200,"rl":1400,"p":103.9},{"ra":150,"rl":1400,"p":107.7},{"ra":100,"rl":1400,"p":111.6},{"ra":50,"rl":1400,"p":115.8},{"ra":0,"rl":1400,"p":120.1},
{"ra":2450,"rl":1200,"p":30.2},{"ra":2400,"rl":1200,"p":30.8},{"ra":2350,"rl":1200,"p":31.4},{"ra":2300,"rl":1200,"p":32.1},{"ra":2250,"rl":1200,"p":32.8},{"ra":2200,"rl":1200,"p":33.5},{"ra":2150,"rl":1200,"p":34.2},{"ra":2100,"rl":1200,"p":35.0},{"ra":2050,"rl":1200,"p":35.8},{"ra":2000,"rl":1200,"p":36.6},{"ra":1950,"rl":1200,"p":37.4},{"ra":1900,"rl":1200,"p":38.3},{"ra":1850,"rl":1200,"p":39.2},{"ra":1800,"rl":1200,"p":40.2},{"ra":1750,"rl":1200,"p":41.1},{"ra":1700,"rl":1200,"p":42.1},{"ra":1650,"rl":1200,"p":43.2},{"ra":1600,"rl":1200,"p":44.2},{"ra":1550,"rl":1200,"p":45.4},{"ra":1500,"rl":1200,"p":46.5},{"ra":1450,"rl":1200,"p":47.7},{"ra":1400,"rl":1200,"p":49.0},{"ra":1350,"rl":1200,"p":50.3},{"ra":1300,"rl":1200,"p":51.6},{"ra":1250,"rl":1200,"p":53.0},{"ra":1200,"rl":1200,"p":54.5},{"ra":1150,"rl":1200,"p":56.0},{"ra":1100,"rl":1200,"p":57.6},{"ra":1050,"rl":1200,"p":59.2},{"ra":1000,"rl":1200,"p":60.9},{"ra":950,"rl":1200,"p":62.7},{"ra":900,"rl":1200,"p":64.6},{"ra":850,"rl":1200,"p":66.6},{"ra":800,"rl":1200,"p":68.6},{"ra":750,"rl":1200,"p":70.8},{"ra":700,"rl":1200,"p":73.0},{"ra":650,"rl":1200,"p":75.4},{"ra":600,"rl":1200,"p":77.9},{"ra":550,"rl":1200,"p":80.5},{"ra":500,"rl":1200,"p":83.3},{"ra":450,"rl":1200,"p":86.2},{"ra":400,"rl":1200,"p":89.3},{"ra":350,"rl":1200,"p":92.5},{"ra":300,"rl":1200,"p":95.9},{"ra":250,"rl":1200,"p":99.5},{"ra":200,"rl":1200,"p":103.3},{"ra":150,"rl":1200,"p":107.3},{"ra":100,"rl":1200,"p":111.5},{"ra":50,"rl":1200,"p":116.0},{"ra":0,"rl":1200,"p":120.8},
{"ra":2450,"rl":1000,"p":27.4},{"ra":2400,"rl":1000,"p":28.0},{"ra":2350,"rl":1000,"p":28.6},{"ra":2300,"rl":1000,"p":29.2},{"ra":2250,"rl":1000,"p":29.9},{"ra":2200,"rl":1000,"p":30.6},{"ra":2150,"rl":1000,"p":31.3},{"ra":2100,"rl":1000,"p":32.0},{"ra":2050,"rl":1000,"p":32.7},{"ra":2000,"rl":1000,"p":33.5},{"ra":1950,"rl":1000,"p":34.3},{"ra":1900,"rl":1000,"p":35.1},{"ra":1850,"rl":1000,"p":36.0},{"ra":1800,"rl":1000,"p":36.9},{"ra":1750,"rl":1000,"p":37.8},{"ra":1700,"rl":1000,"p":38.8},{"ra":1650,"rl":1000,"p":39.8},{"ra":1600,"rl":1000,"p":40.9},{"ra":1550,"rl":1000,"p":42.0},{"ra":1500,"rl":1000,"p":43.1},{"ra":1450,"rl":1000,"p":44.3},{"ra":1400,"rl":1000,"p":45.5},{"ra":1350,"rl":1000,"p":46.7},{"ra":1300,"rl":1000,"p":48.0},{"ra":1250,"rl":1000,"p":49.4},{"ra":1200,"rl":1000,"p":50.9},{"ra":1150,"rl":1000,"p":52.4},{"ra":1100,"rl":1000,"p":54.0},{"ra":1050,"rl":1000,"p":55.7},{"ra":1000,"rl":1000,"p":57.4},{"ra":950,"rl":1000,"p":59.2},{"ra":900,"rl":1000,"p":61.1},{"ra":850,"rl":1000,"p":63.1},{"ra":800,"rl":1000,"p":65.2},{"ra":750,"rl":1000,"p":67.3},{"ra":700,"rl":1000,"p":69.6},{"ra":650,"rl":1000,"p":72.1},{"ra":600,"rl":1000,"p":74.6},{"ra":550,"rl":1000,"p":77.3},{"ra":500,"rl":1000,"p":80.2},{"ra":450,"rl":1000,"p":83.2},{"ra":400,"rl":1000,"p":86.3},{"ra":350,"rl":1000,"p":89.7},{"ra":300,"rl":1000,"p":93.2},{"ra":250,"rl":1000,"p":97.0},{"ra":200,"rl":1000,"p":101.0},{"ra":150,"rl":1000,"p":105.3},{"ra":100,"rl":1000,"p":109.8},{"ra":50,"rl":1000,"p":114.7},{"ra":0,"rl":1000,"p":119.8},
{"ra":2450,"rl":800,"p":24.0},{"ra":2400,"rl":800,"p":24.5},{"ra":2350,"rl":800,"p":25.0},{"ra":2300,"rl":800,"p":25.6},{"ra":2250,"rl":800,"p":26.2},{"ra":2200,"rl":800,"p":26.8},{"ra":2150,"rl":800,"p":27.4},{"ra":2100,"rl":800,"p":28.1},{"ra":2050,"rl":800,"p":28.8},{"ra":2000,"rl":800,"p":29.6},{"ra":1950,"rl":800,"p":30.3},{"ra":1900,"rl":800,"p":31.1},{"ra":1850,"rl":800,"p":31.9},{"ra":1800,"rl":800,"p":32.7},{"ra":1750,"rl":800,"p":33.6},{"ra":1700,"rl":800,"p":34.5},{"ra":1650,"rl":800,"p":35.5},{"ra":1600,"rl":800,"p":36.4},{"ra":1550,"rl":800,"p":37.5},{"ra":1500,"rl":800,"p":38.5},{"ra":1450,"rl":800,"p":39.7},{"ra":1400,"rl":800,"p":40.8},{"ra":1350,"rl":800,"p":42.0},{"ra":1300,"rl":800,"p":43.3},{"ra":1250,"rl":800,"p":44.6},{"ra":1200,"rl":800,"p":46.0},{"ra":1150,"rl":800,"p":47.4},{"ra":1100,"rl":800,"p":49.0},{"ra":1050,"rl":800,"p":50.6},{"ra":1000,"rl":800,"p":52.2},{"ra":950,"rl":800,"p":54.0},{"ra":900,"rl":800,"p":55.9},{"ra":850,"rl":800,"p":57.8},{"ra":800,"rl":800,"p":59.8},{"ra":750,"rl":800,"p":62.0},{"ra":700,"rl":800,"p":64.3},{"ra":650,"rl":800,"p":66.7},{"ra":600,"rl":800,"p":69.2},{"ra":550,"rl":800,"p":71.9},{"ra":500,"rl":800,"p":74.8},{"ra":450,"rl":800,"p":77.9},{"ra":400,"rl":800,"p":81.1},{"ra":350,"rl":800,"p":84.6},{"ra":300,"rl":800,"p":88.2},{"ra":250,"rl":800,"p":92.1},{"ra":200,"rl":800,"p":96.2},{"ra":150,"rl":800,"p":100.7},{"ra":100,"rl":800,"p":105.4},{"ra":50,"rl":800,"p":110.5},{"ra":0,"rl":800,"p":116.0},
{"ra":2450,"rl":600,"p":19.7},{"ra":2400,"rl":600,"p":20.1},{"ra":2350,"rl":600,"p":20.6},{"ra":2300,"rl":600,"p":21.1},{"ra":2250,"rl":600,"p":21.7},{"ra":2200,"rl":600,"p":22.2},{"ra":2150,"rl":600,"p":22.8},{"ra":2100,"rl":600,"p":23.3},{"ra":2050,"rl":600,"p":24.0},{"ra":2000,"rl":600,"p":24.6},{"ra":1950,"rl":600,"p":25.3},{"ra":1900,"rl":600,"p":26.0},{"ra":1850,"rl":600,"p":26.7},{"ra":1800,"rl":600,"p":27.4},{"ra":1750,"rl":600,"p":28.2},{"ra":1700,"rl":600,"p":29.0},{"ra":1650,"rl":600,"p":29.8},{"ra":1600,"rl":600,"p":30.7},{"ra":1550,"rl":600,"p":31.6},{"ra":1500,"rl":600,"p":32.5},{"ra":1450,"rl":600,"p":33.5},{"ra":1400,"rl":600,"p":34.5},{"ra":1350,"rl":600,"p":35.6},{"ra":1300,"rl":600,"p":36.8},{"ra":1250,"rl":600,"p":38.0},{"ra":1200,"rl":600,"p":39.2},{"ra":1150,"rl":600,"p":40.5},{"ra":1100,"rl":600,"p":41.9},{"ra":1050,"rl":600,"p":43.4},{"ra":1000,"rl":600,"p":45.0},{"ra":950,"rl":600,"p":46.6},{"ra":900,"rl":600,"p":48.3},{"ra":850,"rl":600,"p":50.2},{"ra":800,"rl":600,"p":52.1},{"ra":750,"rl":600,"p":54.2},{"ra":700,"rl":600,"p":56.3},{"ra":650,"rl":600,"p":58.6},{"ra":600,"rl":600,"p":61.1},{"ra":550,"rl":600,"p":63.7},{"ra":500,"rl":600,"p":66.4},{"ra":450,"rl":600,"p":69.3},{"ra":400,"rl":600,"p":72.4},{"ra":350,"rl":600,"p":75.8},{"ra":300,"rl":600,"p":79.4},{"ra":250,"rl":600,"p":83.2},{"ra":200,"rl":600,"p":87.3},{"ra":150,"rl":600,"p":91.8},{"ra":100,"rl":600,"p":96.6},{"ra":50,"rl":600,"p":101.8},{"ra":0,"rl":600,"p":107.4},
{"ra":2450,"rl":400,"p":14.5},{"ra":2400,"rl":400,"p":14.8},{"ra":2350,"rl":400,"p":15.2},{"ra":2300,"rl":400,"p":15.6},{"ra":2250,"rl":400,"p":16.0},{"ra":2200,"rl":400,"p":16.4},{"ra":2150,"rl":400,"p":16.9},{"ra":2100,"rl":400,"p":17.3},{"ra":2050,"rl":400,"p":17.8},{"ra":2000,"rl":400,"p":18.3},{"ra":1950,"rl":400,"p":18.8},{"ra":1900,"rl":400,"p":19.3},{"ra":1850,"rl":400,"p":19.9},{"ra":1800,"rl":400,"p":20.5},{"ra":1750,"rl":400,"p":21.1},{"ra":1700,"rl":400,"p":21.7},{"ra":1650,"rl":400,"p":22.4},{"ra":1600,"rl":400,"p":23.1},{"ra":1550,"rl":400,"p":23.8},{"ra":1500,"rl":400,"p":24.6},{"ra":1450,"rl":400,"p":25.4},{"ra":1400,"rl":400,"p":26.2},{"ra":1350,"rl":400,"p":27.1},{"ra":1300,"rl":400,"p":28.1},{"ra":1250,"rl":400,"p":29.1},{"ra":1200,"rl":400,"p":30.1},{"ra":1150,"rl":400,"p":31.2},{"ra":1100,"rl":400,"p":32.4},{"ra":1050,"rl":400,"p":33.6},{"ra":1000,"rl":400,"p":34.9},{"ra":950,"rl":400,"p":36.2},{"ra":900,"rl":400,"p":37.7},{"ra":850,"rl":400,"p":39.2},{"ra":800,"rl":400,"p":40.9},{"ra":750,"rl":400,"p":42.6},{"ra":700,"rl":400,"p":44.5},{"ra":650,"rl":400,"p":46.4},{"ra":600,"rl":400,"p":48.5},{"ra":550,"rl":400,"p":50.7},{"ra":500,"rl":400,"p":53.1},{"ra":450,"rl":400,"p":55.7},{"ra":400,"rl":400,"p":58.5},{"ra":350,"rl":400,"p":61.5},{"ra":300,"rl":400,"p":64.7},{"ra":250,"rl":400,"p":68.2},{"ra":200,"rl":400,"p":71.9},{"ra":150,"rl":400,"p":76.0},{"ra":100,"rl":400,"p":80.5},{"ra":50,"rl":400,"p":85.3},{"ra":0,"rl":400,"p":90.6},
{"ra":2450,"rl":200,"p":8.0},{"ra":2400,"rl":200,"p":8.2},{"ra":2350,"rl":200,"p":8.4},{"ra":2300,"rl":200,"p":8.6},{"ra":2250,"rl":200,"p":8.9},{"ra":2200,"rl":200,"p":9.1},{"ra":2150,"rl":200,"p":9.4},{"ra":2100,"rl":200,"p":9.7},{"ra":2050,"rl":200,"p":10.0},{"ra":2000,"rl":200,"p":10.3},{"ra":1950,"rl":200,"p":10.6},{"ra":1900,"rl":200,"p":10.9},{"ra":1850,"rl":200,"p":11.2},{"ra":1800,"rl":200,"p":11.6},{"ra":1750,"rl":200,"p":12.0},{"ra":1700,"rl":200,"p":12.4},{"ra":1650,"rl":200,"p":12.8},{"ra":1600,"rl":200,"p":13.2},{"ra":1550,"rl":200,"p":13.6},{"ra":1500,"rl":200,"p":14.1},{"ra":1450,"rl":200,"p":14.6},{"ra":1400,"rl":200,"p":15.1},{"ra":1350,"rl":200,"p":15.6},{"ra":1300,"rl":200,"p":16.2},{"ra":1250,"rl":200,"p":16.8},{"ra":1200,"rl":200,"p":17.5},{"ra":1150,"rl":200,"p":18.1},{"ra":1100,"rl":200,"p":18.9},{"ra":1050,"rl":200,"p":19.7},{"ra":1000,"rl":200,"p":20.5},{"ra":950,"rl":200,"p":21.4},{"ra":900,"rl":200,"p":22.3},{"ra":850,"rl":200,"p":23.3},{"ra":800,"rl":200,"p":24.3},{"ra":750,"rl":200,"p":25.4},{"ra":700,"rl":200,"p":26.6},{"ra":650,"rl":200,"p":27.9},{"ra":600,"rl":200,"p":29.3},{"ra":550,"rl":200,"p":30.8},{"ra":500,"rl":200,"p":32.5},{"ra":450,"rl":200,"p":34.2},{"ra":400,"rl":200,"p":36.1},{"ra":350,"rl":200,"p":38.2},{"ra":300,"rl":200,"p":40.4},{"ra":250,"rl":200,"p":42.9},{"ra":200,"rl":200,"p":45.5},{"ra":150,"rl":200,"p":48.5},{"ra":100,"rl":200,"p":51.7},{"ra":50,"rl":200,"p":55.3},{"ra":0,"rl":200,"p":59.2},
{"ra":2450,"rl":0,"p":0},{"ra":2400,"rl":0,"p":0},{"ra":2350,"rl":0,"p":0},{"ra":2300,"rl":0,"p":0},{"ra":2250,"rl":0,"p":0},{"ra":2200,"rl":0,"p":0},{"ra":2150,"rl":0,"p":0},{"ra":2100,"rl":0,"p":0},{"ra":2050,"rl":0,"p":0},{"ra":2000,"rl":0,"p":0},{"ra":1950,"rl":0,"p":0},{"ra":1900,"rl":0,"p":0},{"ra":1850,"rl":0,"p":0},{"ra":1800,"rl":0,"p":0},{"ra":1750,"rl":0,"p":0},{"ra":1700,"rl":0,"p":0},{"ra":1650,"rl":0,"p":0},{"ra":1600,"rl":0,"p":0},{"ra":1550,"rl":0,"p":0},{"ra":1500,"rl":0,"p":0},{"ra":1450,"rl":0,"p":0},{"ra":1400,"rl":0,"p":0},{"ra":1350,"rl":0,"p":0},{"ra":1300,"rl":0,"p":0},{"ra":1250,"rl":0,"p":0},{"ra":1200,"rl":0,"p":0},{"ra":1150,"rl":0,"p":0},{"ra":1100,"rl":0,"p":0},{"ra":1050,"rl":0,"p":0},{"ra":1000,"rl":0,"p":0},{"ra":950,"rl":0,"p":0},{"ra":900,"rl":0,"p":0},{"ra":850,"rl":0,"p":0},{"ra":800,"rl":0,"p":0},{"ra":750,"rl":0,"p":0},{"ra":700,"rl":0,"p":0},{"ra":650,"rl":0,"p":0},{"ra":600,"rl":0,"p":0},{"ra":550,"rl":0,"p":0},{"ra":500,"rl":0,"p":0},{"ra":450,"rl":0,"p":0},{"ra":400,"rl":0,"p":0},{"ra":350,"rl":0,"p":0},{"ra":300,"rl":0,"p":0},{"ra":250,"rl":0,"p":0},{"ra":200,"rl":0,"p":0},{"ra":150,"rl":0,"p":0},{"ra":100,"rl":0,"p":0},{"ra":50,"rl":0,"p":0},{"ra":0,"rl":0,"p":0}
],
"zTicks":[{"rl":0,"ra":3000,"p":0,"label":"0"},{"rl":0,"ra":3000,"p":50,"label":"50"},{"rl":0,"ra":3000,"p":100,"label":"100"},{"rl":0,"ra":3000,"p":150,"label":"150"}],
"raTicks":[{"rl":0,"ra":0,"p":0,"label":"0"},{"rl":0,"ra":1000,"p":0,"label":"1000"},{"rl":0,"ra":2000,"p":0,"label":"2000"},{"rl":0,"ra":3000,"p":0,"label":"3000"}],
"rlTicks":[{"rl":0,"ra":0,"p":0,"label":"0"},{"rl":10000,"ra":0,"p":0,"label":"1"},{"rl":20000,"ra":0,"p":0,"label":"2"},{"rl":30000,"ra":0,"p":0,"label":"3"},{"rl":40000,"ra":0,"p":0,"label":"4"}],
"titleMain":[{"t":"R","sx":411,"sy":1515},{"t":"/k","sx":477,"sy":1515},{"t":"(Ω/V","sx":584,"sy":1515},{"t":"s","sx":727,"sy":1515},{"t":")","sx":788,"sy":1515},{"t":"R","sx":1260,"sy":1453},{"t":"/k","sx":1327,"sy":1453},{"t":"(Ω/V","sx":1433,"sy":1453},{"t":"s","sx":1578,"sy":1453},{"t":")","sx":1637,"sy":1453}],
"titleScript":[{"t":"a","sx":452,"sy":1542},{"t":"m","sx":526,"sy":1542},{"t":"2","sx":529,"sy":1484},{"t":"2","sx":702,"sy":1484},{"t":"2","sx":761,"sy":1484},{"t":"L","sx":1303,"sy":1478},{"t":"m","sx":1376,"sy":1478},{"t":"2","sx":1378,"sy":1417},{"t":"2","sx":1549,"sy":1417},{"t":"2","sx":1611,"sy":1417},{"t":"4","sx":1916,"sy":1240}],
"expo":[{"t":"×","sx":1822,"sy":1265},{"t":"10","sx":1860,"sy":1265}],
"zTitle":[{"t":"RMS Power (mW)","sx":74,"sy":630}]
},
"encoding":{
"x":{"field":"sx","type":"quantitative","scale":{"domain":[0,2046],"nice":false,"zero":false},"axis":null},
"y":{"field":"sy","type":"quantitative","scale":{"domain":[1577,0],"nice":false,"zero":false},"axis":null}
},
"layer":[
{"data":{"name":"lines"},
"transform":[{"calculate":"976+0.024025*datum.rl-0.24433*datum.ra","as":"sx"},{"calculate":"1290-0.006075*datum.rl-0.10567*datum.ra-4.63*datum.p","as":"sy"}],
"mark":{"type":"line","clip":false},
"encoding":{"detail":{"field":"id"},
"stroke":{"field":"kind","type":"nominal","scale":{"domain":["grid","axis"],"range":["#dedcdc","#3c3c3c"]},"legend":null},
"strokeWidth":{"field":"kind","type":"nominal","scale":{"domain":["grid","axis"],"range":[1.2,2.4]},"legend":null}}},
{"data":{"name":"far"},
"transform":[
{"window":[{"op":"dense_rank","as":"i"}],"sort":[{"field":"ra","order":"ascending"}]},
{"window":[{"op":"dense_rank","as":"j"}],"sort":[{"field":"rl","order":"ascending"}]},
{"calculate":"[0,1,2,3]","as":"corners"},{"flatten":["corners"],"as":["k"]},
{"calculate":"(datum.i-(datum.k==1||datum.k==2?1:0))*1000+(datum.j-(datum.k>=2?1:0))","as":"cell"},
{"joinaggregate":[{"op":"count","as":"n"}],"groupby":["cell"]},
{"filter":"datum.n==4"},
{"calculate":"976+0.024025*datum.rl-0.24433*datum.ra","as":"sx"},{"calculate":"1290-0.006075*datum.rl-0.10567*datum.ra-4.63*datum.p","as":"sy"}],
"mark":{"type":"line","interpolate":"linear-closed","stroke":"#100f0c","strokeWidth":2.5,"fill":"#100f0c"},
"encoding":{"detail":{"field":"cell"},"order":{"field":"k"},"fill":{"value":"#100f0c"}}},
{"data":{"name":"tri"},
"transform":[
{"window":[{"op":"dense_rank","as":"i"}],"sort":[{"field":"ra","order":"ascending"}]},
{"window":[{"op":"dense_rank","as":"j"}],"sort":[{"field":"rl","order":"ascending"}]},
{"calculate":"[0,1,2,3]","as":"corners"},{"flatten":["corners"],"as":["k"]},
{"calculate":"(datum.i-(datum.k==1||datum.k==2?1:0))*1000+(datum.j-(datum.k>=2?1:0))","as":"cell"},
{"calculate":"datum.k==0?datum.p:null","as":"pc"},
{"joinaggregate":[{"op":"count","as":"n"},{"op":"max","field":"pc","as":"pm"}],"groupby":["cell"]},
{"filter":"datum.n==4"},
{"calculate":"976+0.024025*datum.rl-0.24433*datum.ra","as":"sx"},{"calculate":"1290-0.006075*datum.rl-0.10567*datum.ra-4.63*datum.p","as":"sy"}],
"mark":{"type":"line","interpolate":"linear-closed","stroke":"#100f0c","strokeWidth":3.2},
"encoding":{"detail":{"field":"cell"},"order":{"field":"k"},
"fill":{"field":"pm","type":"quantitative","legend":null,"scale":{"domain":[0,10,25,40,55,65,78,90,107,121],"range":["#3a2795","#3f35a5","#4a52b9","#3f74d0","#2a96dc","#18aecb","#4dbb86","#b6c92e","#f0aa28","#f6ee12"]}}}},
{"data":{"name":"main"},
"transform":[
{"window":[{"op":"dense_rank","as":"i"}],"sort":[{"field":"ra","order":"ascending"}]},
{"window":[{"op":"dense_rank","as":"j"}],"sort":[{"field":"rl","order":"ascending"}]},
{"calculate":"[0,1,2,3]","as":"corners"},{"flatten":["corners"],"as":["k"]},
{"calculate":"(datum.i-(datum.k==1||datum.k==2?1:0))*1000+(datum.j-(datum.k>=2?1:0))","as":"cell"},
{"calculate":"datum.k==0?datum.p:null","as":"pc"},
{"joinaggregate":[{"op":"count","as":"n"},{"op":"max","field":"pc","as":"pm"},{"op":"min","field":"rl","as":"cl"},{"op":"min","field":"ra","as":"cr"}],"groupby":["cell"]},
{"filter":"datum.n==4"},
{"calculate":"976+0.024025*datum.rl-0.24433*datum.ra","as":"sx"},{"calculate":"1290-0.006075*datum.rl-0.10567*datum.ra-4.63*datum.p","as":"sy"}],
"mark":{"type":"line","interpolate":"linear-closed","stroke":"#100f0c","strokeWidth":3.0},
"encoding":{"detail":{"field":"cell"},"order":{"field":"k"},
"fill":{"condition":{"test":"datum.cl>=(datum.cr<550?9999:datum.cr<850?1900:datum.cr<1200?1600:datum.cr<1600?1800:datum.cr<2000?2000:2400)","value":"#100f0c"},"field":"pm","type":"quantitative","legend":null,"scale":{"domain":[0,10,25,40,55,65,78,90,107,121],"range":["#3a2795","#3f35a5","#4a52b9","#3f74d0","#2a96dc","#18aecb","#4dbb86","#b6c92e","#f0aa28","#f6ee12"]}}}},
{"data":{"name":"zTicks"},
"transform":[{"calculate":"976+0.024025*datum.rl-0.24433*datum.ra","as":"sx"},{"calculate":"1290-0.006075*datum.rl-0.10567*datum.ra-4.63*datum.p","as":"sy"}],
"mark":{"type":"text","align":"right","baseline":"middle","dx":-50,"dy":-7,"font":"Liberation Sans","fontSize":50,"color":"#474747"},
"encoding":{"text":{"field":"label"}}},
{"data":{"name":"raTicks"},
"transform":[{"calculate":"976+0.024025*datum.rl-0.24433*datum.ra","as":"sx"},{"calculate":"1290-0.006075*datum.rl-0.10567*datum.ra-4.63*datum.p","as":"sy"}],
"mark":{"type":"text","align":"right","baseline":"middle","dx":-48,"dy":54,"font":"Liberation Sans","fontSize":50,"color":"#474747"},
"encoding":{"text":{"field":"label"}}},
{"data":{"name":"rlTicks"},
"transform":[{"calculate":"976+0.024025*datum.rl-0.24433*datum.ra","as":"sx"},{"calculate":"1290-0.006075*datum.rl-0.10567*datum.ra-4.63*datum.p","as":"sy"}],
"mark":{"type":"text","align":"center","baseline":"middle","dx":58,"dy":62,"font":"Liberation Sans","fontSize":50,"color":"#474747"},
"encoding":{"text":{"field":"label"}}},
{"data":{"name":"titleMain"},
"mark":{"type":"text","align":"left","baseline":"alphabetic","font":"Liberation Sans","fontSize":58,"color":"#474747"},
"encoding":{"text":{"field":"t"}}},
{"data":{"name":"titleScript"},
"mark":{"type":"text","align":"left","baseline":"alphabetic","font":"Liberation Sans","fontSize":44,"color":"#474747"},
"encoding":{"text":{"field":"t"}}},
{"data":{"name":"expo"},
"mark":{"type":"text","align":"left","baseline":"alphabetic","font":"Liberation Sans","fontSize":48,"color":"#474747"},
"encoding":{"text":{"field":"t"}}},
{"data":{"name":"zTitle"},
"mark":{"type":"text","align":"center","baseline":"alphabetic","angle":270,"font":"Liberation Sans","fontSize":57,"color":"#474747"},
"encoding":{"text":{"field":"t"}}}
]}
